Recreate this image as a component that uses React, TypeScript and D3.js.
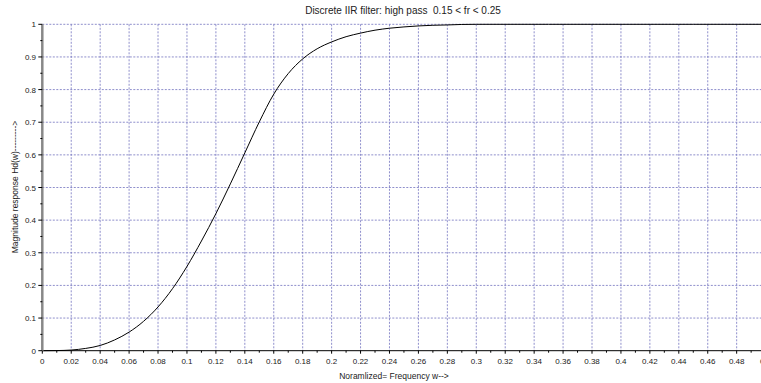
import React from "react";
import * as d3 from "d3";

const freq = [0, 0.01, 0.02, 0.03, 0.04, 0.05, 0.06, 0.07, 0.08, 0.09, 0.1, 0.11, 0.12, 0.13, 0.14, 0.15, 0.16, 0.17, 0.18, 0.19, 0.2, 0.21, 0.22, 0.23, 0.24, 0.25, 0.26, 0.27, 0.28, 0.29, 0.3, 0.35, 0.4, 0.45, 0.5];
const mag = [0, 0.0004, 0.002, 0.007, 0.016, 0.033, 0.057, 0.09, 0.134, 0.19, 0.258, 0.336, 0.42, 0.511, 0.606, 0.701, 0.786, 0.849, 0.894, 0.925, 0.946, 0.962, 0.973, 0.982, 0.988, 0.992, 0.995, 0.997, 0.998, 0.9995, 1, 1, 1, 1, 1];

const xTicks = d3.range(0, 26).map((i) => +(i * 0.02).toFixed(2));
const xMinor = d3.range(0, 26).map((i) => +(i * 0.02 + 0.01).toFixed(2));
const yTicks = d3.range(0, 11).map((i) => +(i * 0.1).toFixed(1));
const yMinor = d3.range(0, 10).map((i) => +(i * 0.1 + 0.05).toFixed(2));

const title = "Discrete IIR filter: high pass  0.15 < fr < 0.25";
const xLabel = "Noramlized= Frequency w-->";
const yLabel = "Magnitude response Hd(w)--------->";

export default function App() {
  const W = 761, H = 383;
  const x = d3.scaleLinear().domain([0, 0.5]).range([42.3, 765.6]);
  const y = d3.scaleLinear().domain([0, 1]).range([350.7, 24.3]);
  const line = d3.line<number>().x((_, i) => x(freq[i])).y((d) => y(d)).curve(d3.curveMonotoneX);
  const fmt = (v: number) => String(v);
  const font = "'Liberation Sans', Arial, sans-serif";
  const gridColor = "#7474c0";
  return (
    <svg width={W} height={H} style={{ position: "absolute", left: 0, top: 0, background: "#fff" }} fontFamily={font}>
      <rect width={W} height={H} fill="#fff" />
      {/* grid */}
      {xTicks.slice(1).map((t) => (
        <line key={"gx" + t} x1={x(t)} x2={x(t)} y1={y(1)} y2={y(0)} stroke={gridColor} strokeWidth={1} strokeDasharray="2,1.5" opacity={0.8} />
      ))}
      {yTicks.slice(1).map((t) => (
        <line key={"gy" + t} x1={x(0)} x2={W} y1={y(t)} y2={y(t)} stroke={gridColor} strokeWidth={1} strokeDasharray="2,1.5" opacity={0.8} />
      ))}
      {/* curve */}
      <path d={line(mag) || ""} fill="none" stroke="#000" strokeWidth={1} />
      {/* x axis */}
      <line x1={x(0)} x2={W} y1={y(0)} y2={y(0)} stroke="#000" strokeWidth={1} />
      {xTicks.map((t) => (
        <g key={"xt" + t}>
          <line x1={x(t)} x2={x(t)} y1={y(0)} y2={y(0) + 3} stroke="#000" />
          <text x={x(t)} y={y(0) + 13} fontSize={8} textAnchor="middle" fill="#222">{fmt(t)}</text>
        </g>
      ))}
      {xMinor.map((t) => (
        <line key={"xm" + t} x1={x(t)} x2={x(t)} y1={y(0)} y2={y(0) + 2} stroke="#000" />
      ))}
      {/* y axis */}
      <line x1={x(0)} x2={x(0)} y1={y(1)} y2={y(0)} stroke="#888" strokeWidth={2.5} />
      {yTicks.map((t) => (
        <g key={"yt" + t}>
          <line x1={x(0) - 4} x2={x(0)} y1={y(t)} y2={y(t)} stroke="#000" />
          <text x={36} y={y(t) + 3} fontSize={8} textAnchor="end" fill="#222">{fmt(t)}</text>
        </g>
      ))}
      {yMinor.map((t) => (
        <line key={"ym" + t} x1={x(0) - 2} x2={x(0)} y1={y(t)} y2={y(t)} stroke="#000" />
      ))}
      {/* labels */}
      <text x={403} y={14} fontSize={10} textAnchor="middle" fill="#222" style={{ whiteSpace: "pre" }}>{title}</text>
      <text x={394} y={379} fontSize={8.5} textAnchor="middle" fill="#222">{xLabel}</text>
      <text transform={`translate(18,187) rotate(-90)`} fontSize={8.5} textAnchor="middle" fill="#222">{yLabel}</text>
    </svg>
  );
}
